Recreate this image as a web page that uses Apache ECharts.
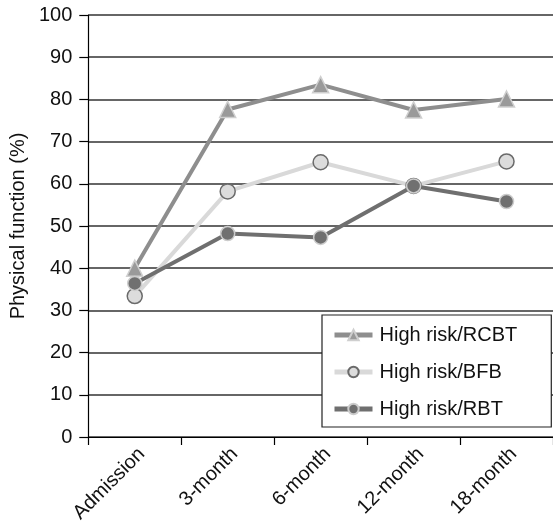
<!DOCTYPE html>
<html>
<head>
<meta charset="utf-8">
<script src="https://cdn.jsdelivr.net/npm/echarts@6/dist/echarts.min.js"></script>
<style>
  html, body { margin: 0; padding: 0; background: #fff; }
  #chart { width: 553px; height: 531px; }
</style>
</head>
<body>
<div id="chart"></div>
<script>
// Time points of follow-up
const categories = ['Admission', '3-month', '6-month', '12-month', '18-month'];
// Physical function scores (%) per group
const rcbt = [40, 77.6, 83.5, 77.5, 80.1];
const bfb = [33.4, 58.2, 65.1, 59.5, 65.3];
const rbt = [36.4, 48.2, 47.3, 59.5, 55.8];
// Y axis range
const yMin = 0, yMax = 100, yStep = 10;

const font = 'Liberation Sans, Arial, Helvetica, sans-serif';

const chart = echarts.init(document.getElementById('chart'), null, { renderer: 'canvas' });

function lineSeries(name, data, lineColor, symbol, size, fill, border) {
  return {
    name: name,
    type: 'line',
    data: data,
    symbol: symbol,
    symbolSize: size,
    showAllSymbol: true,
    lineStyle: { color: lineColor, width: 4 },
    itemStyle: { color: fill, borderColor: border, borderWidth: 1.5 },
    emphasis: { disabled: true },
    z: 3
  };
}

chart.setOption({
  animation: false,
  backgroundColor: '#fff',
  grid: { left: 88, top: 15, right: -5, bottom: 94, containLabel: false },
  xAxis: {
    type: 'category',
    data: categories,
    boundaryGap: true,
    axisLine: { lineStyle: { color: '#000', width: 1.2 } },
    axisTick: { show: true, length: 8, lineStyle: { color: '#000', width: 1.2 }, alignWithLabel: false },
    axisLabel: {
      rotate: 45, color: '#111', fontSize: 20, fontFamily: font,
      margin: 7, interval: 0, verticalAlign: 'top'
    },
    splitLine: { show: false }
  },
  yAxis: {
    type: 'value',
    min: yMin, max: yMax, interval: yStep,
    name: 'Physical function (%)',
    nameLocation: 'middle',
    nameGap: 58,
    nameTextStyle: { fontSize: 20, color: '#111', fontFamily: font },
    axisLine: { show: true, lineStyle: { color: '#000', width: 1.2 } },
    axisTick: { show: true, length: 9, lineStyle: { color: '#000', width: 1.2 } },
    axisLabel: { color: '#111', fontSize: 20, fontFamily: font, margin: 16 },
    splitLine: { show: true, lineStyle: { color: '#333', width: 1.5 } }
  },
  legend: {
    show: true,
    orient: 'vertical',
    left: 322, top: 315,
    padding: [10, 34, 8, 10],
    itemGap: 17,
    itemWidth: 38, itemHeight: 13,
    backgroundColor: '#fff',
    borderColor: '#222',
    borderWidth: 1.2,
    borderRadius: 0,
    lineStyle: { width: 5 },
    textStyle: { fontSize: 20, color: '#111', fontFamily: font, padding: [0, 0, 0, 2] },
    data: ['High risk/RCBT', 'High risk/BFB', 'High risk/RBT']
  },
  series: [
    lineSeries('High risk/RCBT', rcbt, '#8e8e8e', 'triangle', 16, '#9a9a9a', '#cfcfcf'),
    lineSeries('High risk/BFB', bfb, '#d9d9d9', 'circle', 15, '#dcdcdc', '#6a6a6a'),
    lineSeries('High risk/RBT', rbt, '#6f6f6f', 'circle', 14, '#707070', '#cccccc')
  ]
});
</script>
</body>
</html>
